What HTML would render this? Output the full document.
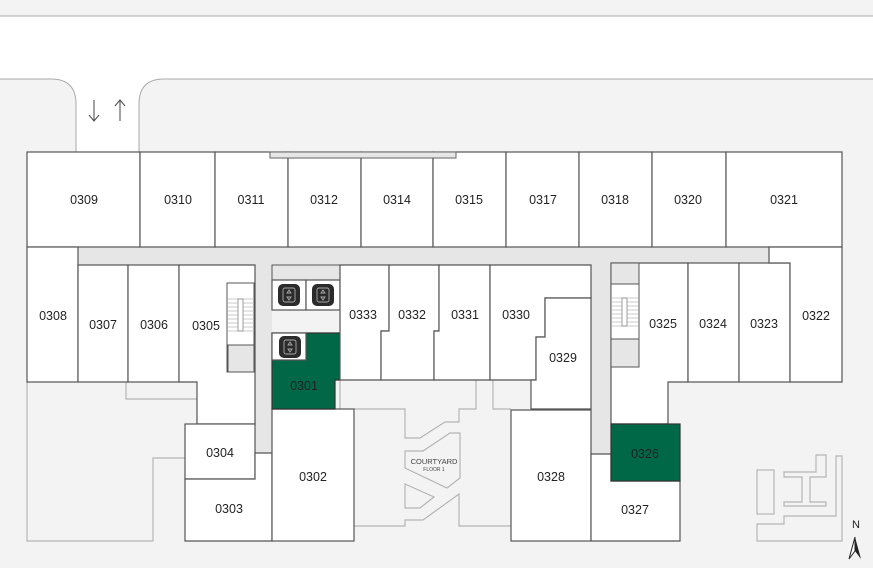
<!DOCTYPE html>
<html><head><meta charset="utf-8"><style>
html,body{margin:0;padding:0;background:#f3f3f3}
svg{display:block}
text{font-family:"Liberation Sans",sans-serif;font-size:12.5px;fill:#222;text-anchor:middle}
.r{fill:#fff;stroke:#555;stroke-width:1.2}
.g{fill:#e6e6e6;stroke:none}
.l{fill:none;stroke:#b5b5b5;stroke-width:1.2}
.gr{fill:#006847;stroke:#333;stroke-width:1.2}
</style></head><body>
<svg width="873" height="568" viewBox="0 0 873 568" xmlns="http://www.w3.org/2000/svg">
<rect width="873" height="568" fill="#f3f3f3"/>
<!-- road -->
<path d="M0 16 H873 V79 H164 Q139 79 139 104 V152 H76 V104 Q76 79 51 79 H0 Z" fill="#fff"/>
<path d="M0 16 H873" stroke="#aaa" stroke-width="1"/>
<path d="M0 79 H51 Q76 79 76 104 V152 M873 79 H164 Q139 79 139 104 V152" fill="none" stroke="#aaa" stroke-width="1"/>
<g stroke="#555" stroke-width="1.1" fill="none">
<path d="M94 100 V121 M89 115 L94 121 L99 115"/>
<path d="M120 121 V100 M115 106 L120 100 L125 106"/>
</g>
<!-- corridors -->
<rect class="g" x="78" y="247" width="691" height="18"/>
<rect class="g" x="255" y="247" width="17" height="206"/>
<rect class="g" x="591" y="247" width="20" height="207"/>
<!-- lower light outlines -->
<path class="l" d="M27 382 V541 H153 V458 H185"/>
<path class="l" d="M126 382 V399 H197"/>
<path class="l" d="M354 409 H405 V438 H420 L445 422 H459 V409 H476 V380 M493 380 V409 H511"/>
<path class="l" d="M405 451 H423 L450 433 H460 V478 L447 488 L405 468 Z"/>
<path class="l" d="M405 484 V508 H420 L434 497 Z"/>
<path class="l" d="M354 526 H405 V520 H423 L459 494 V526 H511"/>
<path class="l" d="M340 380 V409"/>
<!-- top row -->
<rect class="r" x="27" y="152" width="113" height="95"/>
<rect class="r" x="140" y="152" width="75" height="95"/>
<rect class="r" x="215" y="152" width="73" height="95"/>
<rect class="r" x="288" y="152" width="73" height="95"/>
<rect class="r" x="361" y="152" width="72" height="95"/>
<rect class="r" x="433" y="152" width="73" height="95"/>
<rect class="r" x="506" y="152" width="73" height="95"/>
<rect class="r" x="579" y="152" width="73" height="95"/>
<rect class="r" x="652" y="152" width="74" height="95"/>
<rect class="r" x="726" y="152" width="116" height="95"/>
<rect x="270" y="152" width="186" height="6" fill="#e6e6e6" stroke="#666" stroke-width="1"/>
<!-- left wing -->
<rect class="r" x="27" y="247" width="51" height="135"/>
<rect class="r" x="78" y="265" width="50" height="117"/>
<rect class="r" x="128" y="265" width="51" height="117"/>
<path class="r" d="M179 265 H255 V424 H197 V382 H179 Z"/>
<rect x="227" y="283" width="27" height="89" fill="#fff" stroke="#555"/>
<rect x="228" y="345" width="26" height="27" fill="#e6e6e6" stroke="#555"/>
<g stroke="#bbb" stroke-width="0.8">
<path d="M228 299H254M228 303H254M228 307H254M228 311H254M228 315H254M228 319H254M228 323H254M228 327H254M228 331H254"/>
</g>
<rect x="238" y="299" width="5" height="32" fill="#fff" stroke="#888" stroke-width="0.8"/>
<rect class="r" x="185" y="424" width="70" height="55"/>
<path class="r" d="M185 479 H255 V453 H272 V541 H185 Z"/>
<rect class="r" x="272" y="409" width="82" height="132"/>
<!-- elevator core -->
<rect x="272" y="265" width="68" height="15" fill="#e6e6e6" stroke="#555"/>
<rect class="r" x="272" y="280" width="34" height="30"/>
<rect class="r" x="306" y="280" width="34" height="30"/>
<path class="gr" d="M272 333 H340 V380 H335 V409 H272 Z"/>
<rect class="r" x="272" y="333" width="34" height="27"/>
<g fill="#2b2b2b">
<rect x="278" y="284" width="22" height="22" rx="5"/>
<rect x="312" y="284" width="22" height="22" rx="5"/>
<rect x="279" y="336" width="22" height="22" rx="5"/>
</g>
<g fill="none" stroke="#aaa" stroke-width="0.9">
<rect x="283" y="288" width="12" height="14" rx="2"/><path d="M289 290 l-2 3 h4z M289 300 l-2 -3 h4z"/>
<rect x="317" y="288" width="12" height="14" rx="2"/><path d="M323 290 l-2 3 h4z M323 300 l-2 -3 h4z"/>
<rect x="284" y="340" width="12" height="14" rx="2"/><path d="M290 342 l-2 3 h4z M290 352 l-2 -3 h4z"/>
</g>
<!-- center block -->
<path class="r" d="M340 265 H389 V331 H381 V380 H340 Z"/>
<path class="r" d="M389 265 H439 V331 H434 V380 H381 V331 H389 Z"/>
<path class="r" d="M439 265 H490 V380 H434 V331 H439 Z"/>
<path class="r" d="M490 265 H591 V298 H545 V337 H536 V380 H490 Z"/>
<path class="r" d="M545 298 H591 V409 H531 V380 H536 V337 H545 Z"/>
<rect class="r" x="511" y="410" width="80" height="131"/>
<!-- right wing -->
<path class="r" d="M611 263 H688 V382 H668 V424 H611 Z"/>
<rect x="611" y="263" width="28" height="104" fill="#fff" stroke="#555"/>
<rect x="611" y="263" width="28" height="21" fill="#e6e6e6" stroke="#555"/>
<rect x="611" y="339" width="28" height="28" fill="#e6e6e6" stroke="#555"/>
<g stroke="#bbb" stroke-width="0.8">
<path d="M612 298H638M612 302H638M612 306H638M612 310H638M612 314H638M612 318H638M612 322H638M612 326H638"/>
</g>
<rect x="622" y="298" width="5" height="28" fill="#fff" stroke="#888" stroke-width="0.8"/>
<rect class="r" x="688" y="263" width="51" height="119"/>
<rect class="r" x="739" y="263" width="51" height="119"/>
<path class="r" d="M769 247 H842 V382 H790 V263 H769 Z"/>
<path class="r" d="M591 454 H611 V481 H680 V541 H591 Z"/>
<rect class="gr" x="611" y="424" width="69" height="57"/>
<!-- site icon -->
<g class="l">
<rect x="757" y="470" width="17" height="44"/>
<path d="M784 472 H816 V455 H826 V477 H810 V502 H826 V506 H784 V502 H802 V477 H784 Z"/>
<path d="M757 541 H842 V456 H836 V516 H784 V524 H757 Z"/>
</g>
<text x="856" y="528" style="font-size:11px">N</text>
<path d="M855 537 L849 559 L855 551 Z" fill="#fff" stroke="#222" stroke-width="1"/>
<path d="M855 537 L861 559 L855 551 Z" fill="#222"/>
<!-- labels -->
<text x="84" y="204">0309</text><text x="178" y="204">0310</text><text x="251" y="204">0311</text>
<text x="324" y="204">0312</text><text x="397" y="204">0314</text><text x="469" y="204">0315</text>
<text x="543" y="204">0317</text><text x="615" y="204">0318</text><text x="688" y="204">0320</text>
<text x="784" y="204">0321</text>
<text x="53" y="320">0308</text><text x="103" y="329">0307</text><text x="154" y="329">0306</text>
<text x="206" y="330">0305</text><text x="304" y="390">0301</text><text x="363" y="319">0333</text>
<text x="412" y="319">0332</text><text x="465" y="319">0331</text><text x="516" y="319">0330</text>
<text x="563" y="362">0329</text><text x="663" y="328">0325</text><text x="713" y="328">0324</text>
<text x="764" y="328">0323</text><text x="816" y="320">0322</text>
<text x="220" y="457">0304</text><text x="229" y="513">0303</text><text x="313" y="481">0302</text>
<text x="551" y="481">0328</text><text x="645" y="458">0326</text><text x="635" y="514">0327</text>
<text x="434" y="464" style="font-size:7.5px;fill:#444">COURTYARD</text>
<text x="434" y="471" style="font-size:5px;fill:#444">FLOOR 1</text>
</svg>
</body></html>
